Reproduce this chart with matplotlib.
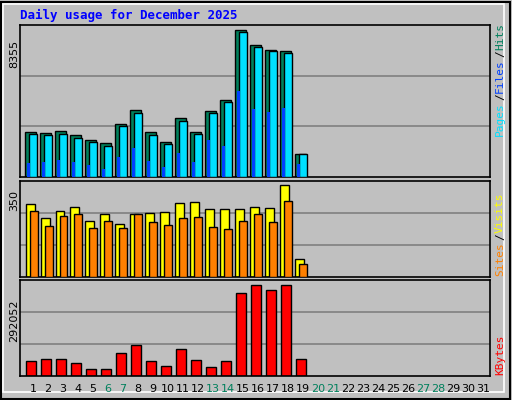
import matplotlib
matplotlib.use("Agg")
import matplotlib.pyplot as plt
from matplotlib.patches import Rectangle
import numpy as np

days = list(range(1, 32))
hits = [2560, 2500, 2610, 2390, 2100, 1930, 3010, 3810, 2560, 1990, 3350, 2560, 3750, 4370, 8355, 7500, 7210, 7160, 1310]
files = [2460, 2400, 2460, 2230, 2010, 1780, 2910, 3650, 2400, 1890, 3200, 2460, 3650, 4280, 8250, 7400, 7120, 7060, 1310]
pages = [810, 870, 980, 870, 700, 470, 1150, 1660, 930, 590, 1380, 870, 2120, 1780, 4900, 3880, 3710, 3940, 760]
visits = [277, 224, 251, 266, 213, 236, 201, 236, 243, 247, 281, 285, 258, 255, 255, 266, 262, 350, 65]
sites = [251, 194, 231, 236, 186, 213, 186, 239, 209, 197, 224, 228, 190, 182, 213, 239, 209, 289, 49]
kbytes = [48100, 54500, 54500, 41700, 19300, 19300, 73800, 96300, 48100, 28900, 86600, 51300, 25700, 48100, 266000, 289000, 276000, 292052, 54500]
weekends = [6, 7, 13, 14, 20, 21, 27, 28]

W, H = 512, 400
fig = plt.figure(figsize=(W/100, H/100), dpi=100, facecolor="#c0c0c0")
mono = "DejaVu Sans Mono"

def ax_at(x0, y0, x1, y1):
    a = fig.add_axes([x0/W, 1-y1/H, (x1-x0)/W, (y1-y0)/H])
    a.set_facecolor("#c0c0c0")
    for s in a.spines.values():
        s.set_color("black"); s.set_linewidth(1.2)
    a.set_xlim(0.133, 31.47)
    a.set_xticks([]); a.set_yticks([])
    return a

# outer frame
fig.patches.append(Rectangle((1/W, 1/H), (W-3)/W, (H-3)/H, transform=fig.transFigure,
                             fill=False, ec="black", lw=1.5))
fig.patches.append(Rectangle((3/W, 8/H), (W-11)/W, (H-12)/H, transform=fig.transFigure,
                             fill=False, ec="white", lw=1.2))

x = np.arange(1, len(hits)+1)
u = 1/15.0

def grid(a, top):
    for f in (1/3, 2/3):
        a.axhline(top*f, color="#808080", lw=1.2, zorder=0)

# top panel
a1 = ax_at(20, 25, 490, 177)
top1 = 8355*151.7/147
a1.set_ylim(0, top1); grid(a1, top1)
a1.bar(x-2.5*u, hits, width=11*u, color="#00805c", ec="black", lw=1, zorder=2)
a1.bar(x+0*u, files, width=8*u, color="#00e0ff", ec="black", lw=1, zorder=3)
a1.bar(x-4.5*u, pages, width=2.5*u, color="#0040ff", ec="none", lw=0, zorder=4)

# middle panel
a2 = ax_at(20, 181, 490, 276.5)
top2 = 350*95.5/92
a2.set_ylim(0, top2); grid(a2, top2)
a2.bar(x-3*u, visits, width=9*u, color="#ffff00", ec="black", lw=1, zorder=2)
a2.bar(x+0.5*u, sites, width=8*u, color="#ff8000", ec="black", lw=1, zorder=3)

# bottom panel
a3 = ax_at(20, 280, 490, 375.5)
top3 = 292052*95.5/91
a3.set_ylim(0, top3); grid(a3, top3)
a3.bar(x-2*u, kbytes, width=10*u, color="#ff0000", ec="black", lw=1, zorder=2)

for d in days:
    fig.text((33+15*(d-1))/W, 1-389/H, str(d), ha="center", va="center", fontsize=8,
             color="#00805c" if d in weekends else "black")

fig.text(20/W, 1-15/H, "Daily usage for December 2025", color="#0000ff", fontsize=9,
         fontweight="bold", family=mono, va="center", ha="left")
for txt, y in (("8355", 40), ("350", 190), ("292052", 300)):
    fig.text(14/W, 1-y/H, txt, rotation=90, ha="center", va="top", fontsize=8, color="black")

def vlabel(parts, ybottom):
    t = fig.text(500/W, 1-ybottom/H, "", rotation=90)
    y = ybottom
    for s, c in parts:
        fig.text(500/W, 1-y/H, s, rotation=90, ha="center", va="bottom", fontsize=8,
                 family=mono, color=c)
        y -= 7.2*len(s)

vlabel([("Pages", "#00e0ff"), ("/", "black"), ("Files", "#0040ff"), ("/", "black"), ("Hits", "#00805c")], 136)
vlabel([("Sites", "#ff8000"), ("/", "black"), ("Visits", "#ffff00")], 276)
vlabel([("KBytes", "#ff0000")], 375)

fig.savefig("out.png", dpi=100, facecolor=fig.get_facecolor())
